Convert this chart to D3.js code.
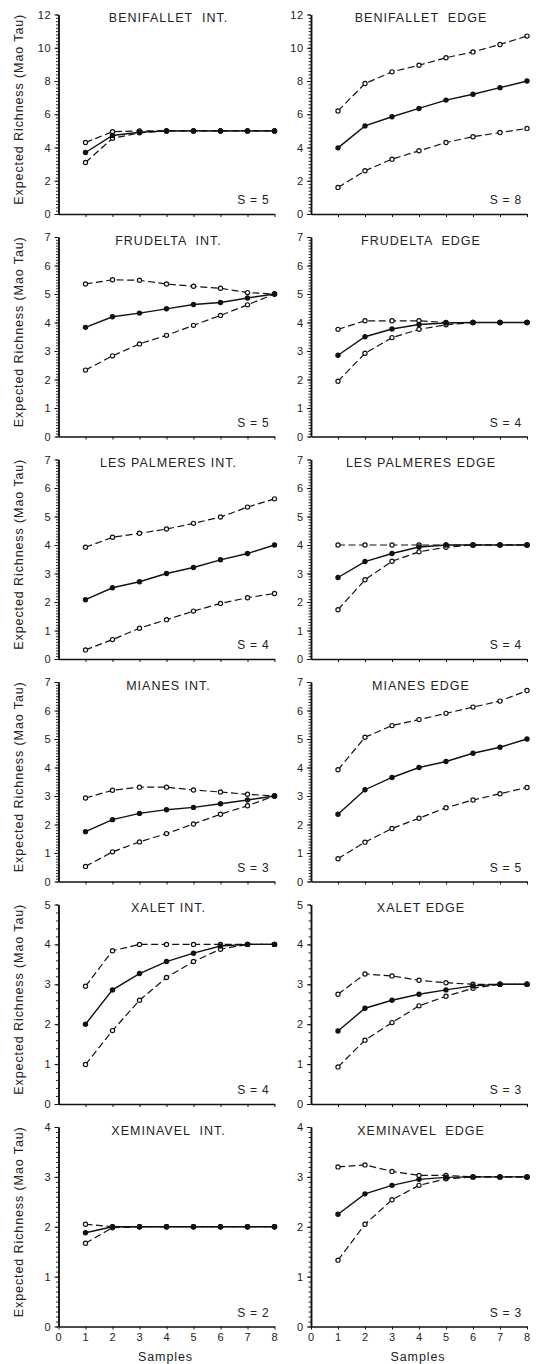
<!DOCTYPE html>
<html>
<head>
<meta charset="utf-8">
<script src="https://cdn.jsdelivr.net/npm/d3@7"></script>
<style>
  body { margin: 0; background: #fff; }
  svg text { font-family: "Liberation Sans", Arial, sans-serif; fill: #222; }
  .axis path, .axis line { stroke: #111; }
  .axis path { stroke-width: 1.5; }
  .axis line { stroke-width: 1; }
  .minor line { stroke-width: 0.9; }
  .axis text { font-size: 11px; letter-spacing: 0.8px; }
  .title { font-size: 12.5px; letter-spacing: 1px; white-space: pre; }
  .richness { font-size: 12px; letter-spacing: 0.8px; }
  .label { font-size: 12.5px; letter-spacing: 0.9px; }
</style>
</head>
<body>
<div id="chart"></div>
<script>
var width = 537, height = 1364;

// x values (number of samples)
var samples = [1, 2, 3, 4, 5, 6, 7, 8];
var sampleTicks = [0, 1, 2, 3, 4, 5, 6, 7, 8];

// panel titles, left column = interior, right column = edge
var titles = ["BENIFALLET  INT.", "BENIFALLET  EDGE",
              "FRUDELTA  INT.", "FRUDELTA  EDGE",
              "LES PALMERES INT.", "LES PALMERES EDGE",
              "MIANES INT.", "MIANES EDGE",
              "XALET INT.", "XALET EDGE",
              "XEMINAVEL  INT.", "XEMINAVEL  EDGE"];

// observed richness S for each panel
var observedS = [5, 8, 5, 4, 4, 4, 3, 5, 4, 3, 2, 3];

// y axis maximum per row
var rowMax = [12, 7, 7, 7, 5, 4];

// Mao Tau expected richness (mean) and 95% bounds
var benifalletIntMean  = [3.7, 4.72, 4.92, 5, 5, 5, 5, 5];
var benifalletIntUpper = [4.3, 4.95, 5, 5, 5, 5, 5, 5];
var benifalletIntLower = [3.1, 4.55, 4.88, 5, 5, 5, 5, 5];

var benifalletEdgeMean  = [3.98, 5.3, 5.85, 6.35, 6.85, 7.2, 7.6, 8];
var benifalletEdgeUpper = [6.2, 7.85, 8.55, 8.95, 9.4, 9.75, 10.2, 10.7];
var benifalletEdgeLower = [1.6, 2.6, 3.3, 3.8, 4.3, 4.65, 4.9, 5.15];

var frudeltaIntMean  = [3.83, 4.2, 4.33, 4.48, 4.63, 4.7, 4.86, 5];
var frudeltaIntUpper = [5.35, 5.5, 5.48, 5.35, 5.27, 5.2, 5.05, 5];
var frudeltaIntLower = [2.33, 2.83, 3.25, 3.55, 3.9, 4.25, 4.62, 5];

var frudeltaEdgeMean  = [2.85, 3.5, 3.77, 3.93, 3.98, 4, 4, 4];
var frudeltaEdgeUpper = [3.76, 4.06, 4.06, 4.06, 4, 4, 4, 4];
var frudeltaEdgeLower = [1.94, 2.92, 3.47, 3.76, 3.92, 4, 4, 4];

var palmeresIntMean  = [2.08, 2.5, 2.71, 3, 3.21, 3.48, 3.7, 4];
var palmeresIntUpper = [3.92, 4.27, 4.41, 4.56, 4.76, 4.98, 5.33, 5.62];
var palmeresIntLower = [0.32, 0.68, 1.08, 1.38, 1.68, 1.95, 2.15, 2.3];

var palmeresEdgeMean  = [2.86, 3.42, 3.7, 3.93, 4, 4, 4, 4];
var palmeresEdgeUpper = [4, 4, 4, 4, 4, 4, 4, 4];
var palmeresEdgeLower = [1.73, 2.78, 3.43, 3.76, 3.92, 4, 4, 4];

var mianesIntMean  = [1.75, 2.17, 2.39, 2.52, 2.6, 2.73, 2.86, 3];
var mianesIntUpper = [2.93, 3.2, 3.31, 3.31, 3.21, 3.14, 3.06, 3];
var mianesIntLower = [0.53, 1.04, 1.39, 1.68, 2.02, 2.36, 2.66, 3];

var mianesEdgeMean  = [2.36, 3.22, 3.65, 4, 4.21, 4.5, 4.71, 5];
var mianesEdgeUpper = [3.92, 5.06, 5.47, 5.68, 5.9, 6.12, 6.33, 6.7];
var mianesEdgeLower = [0.8, 1.38, 1.86, 2.22, 2.59, 2.86, 3.08, 3.3];

var xaletIntMean  = [2, 2.86, 3.27, 3.57, 3.78, 3.96, 4, 4];
var xaletIntUpper = [2.95, 3.84, 4, 4, 4, 4, 4, 4];
var xaletIntLower = [0.99, 1.84, 2.6, 3.17, 3.57, 3.88, 4, 4];

var xaletEdgeMean  = [1.83, 2.4, 2.6, 2.75, 2.86, 2.96, 3, 3];
var xaletEdgeUpper = [2.75, 3.26, 3.21, 3.1, 3.04, 3, 3, 3];
var xaletEdgeLower = [0.93, 1.6, 2.04, 2.46, 2.7, 2.9, 3, 3];

var xeminavelIntMean  = [1.88, 2, 2, 2, 2, 2, 2, 2];
var xeminavelIntUpper = [2.05, 2, 2, 2, 2, 2, 2, 2];
var xeminavelIntLower = [1.67, 1.98, 2, 2, 2, 2, 2, 2];

var xeminavelEdgeMean  = [2.25, 2.66, 2.83, 2.95, 2.99, 3, 3, 3];
var xeminavelEdgeUpper = [3.2, 3.24, 3.11, 3.03, 3.03, 3, 3, 3];
var xeminavelEdgeLower = [1.33, 2.05, 2.54, 2.83, 2.96, 3, 3, 3];

var means  = [benifalletIntMean, benifalletEdgeMean, frudeltaIntMean, frudeltaEdgeMean,
              palmeresIntMean, palmeresEdgeMean, mianesIntMean, mianesEdgeMean,
              xaletIntMean, xaletEdgeMean, xeminavelIntMean, xeminavelEdgeMean];
var uppers = [benifalletIntUpper, benifalletEdgeUpper, frudeltaIntUpper, frudeltaEdgeUpper,
              palmeresIntUpper, palmeresEdgeUpper, mianesIntUpper, mianesEdgeUpper,
              xaletIntUpper, xaletEdgeUpper, xeminavelIntUpper, xeminavelEdgeUpper];
var lowers = [benifalletIntLower, benifalletEdgeLower, frudeltaIntLower, frudeltaEdgeLower,
              palmeresIntLower, palmeresEdgeLower, mianesIntLower, mianesEdgeLower,
              xaletIntLower, xaletEdgeLower, xeminavelIntLower, xeminavelEdgeLower];

// layout
var colLeft = [58.5, 311];
var plotWidth = 216;
var firstTop = 14.5, rowStep = 222.5, plotHeight = 199.5;

var svg = d3.select("#chart")
  .append("svg")
  .attr("width", width)
  .attr("height", height);

svg.append("rect").attr("width", width).attr("height", height).attr("fill", "#fff");

titles.forEach(function(title, i) {
  var row = Math.floor(i / 2), col = i % 2;
  var top = firstTop + row * rowStep;
  var left = colLeft[col];
  var yMax = rowMax[row];
  var isBottom = row == rowMax.length - 1;

  var x = d3.scaleLinear().domain([0, 8]).range([left, left + plotWidth]);
  var y = d3.scaleLinear().domain([0, yMax]).range([top + plotHeight, top]);

  var g = svg.append("g");

  // minor ticks on y
  var minorStep = yMax >= 12 ? 0.2 : (yMax == 5 ? 0.2 : 0.1);
  var minors = d3.range(0, yMax + 1e-6, minorStep);
  g.append("g")
    .attr("class", "axis minor")
    .attr("transform", "translate(" + left + ",0)")
    .call(d3.axisLeft(y).tickValues(minors).tickSize(2.5).tickSizeOuter(0).tickFormat(""));

  // major ticks on y
  var majorStep = yMax >= 12 ? 2 : 1;
  g.append("g")
    .attr("class", "axis")
    .attr("transform", "translate(" + left + ",0)")
    .call(d3.axisLeft(y).tickValues(d3.range(0, yMax + 1e-6, majorStep))
      .tickSize(4).tickSizeOuter(0).tickPadding(3).tickFormat(d3.format("d")));

  // x axis
  g.append("g")
    .attr("class", "axis")
    .attr("transform", "translate(0," + y(0) + ")")
    .call(d3.axisBottom(x).tickValues(isBottom ? sampleTicks : samples)
      .tickSize(3).tickSizeOuter(0).tickPadding(4)
      .tickFormat(isBottom ? d3.format("d") : ""));

  // title
  g.append("text")
    .attr("class", "title")
    .attr("x", left + plotWidth / 2 + 2)
    .attr("y", top + 7.5)
    .attr("text-anchor", "middle")
    .text(title);

  // S = n
  g.append("text")
    .attr("class", "richness")
    .attr("x", left + plotWidth - 5)
    .attr("y", y(0) - 10)
    .attr("text-anchor", "end")
    .text("S = " + observedS[i]);

  var line = d3.line()
    .x(function(d, j) { return x(samples[j]); })
    .y(function(d) { return y(d); });

  // dashed bounds
  [uppers[i], lowers[i]].forEach(function(series) {
    g.append("path")
      .attr("d", line(series))
      .attr("fill", "none")
      .attr("stroke", "#111")
      .attr("stroke-width", 1.2)
      .attr("stroke-dasharray", "7,3.5");
  });

  // solid mean
  g.append("path")
    .attr("d", line(means[i]))
    .attr("fill", "none")
    .attr("stroke", "#111")
    .attr("stroke-width", 1.4);

  [uppers[i], lowers[i]].forEach(function(series) {
    g.selectAll(null)
      .data(series)
      .enter()
      .append("circle")
      .attr("cx", function(d, j) { return x(samples[j]); })
      .attr("cy", function(d) { return y(d); })
      .attr("r", 2.1)
      .attr("fill", "#fff")
      .attr("stroke", "#111")
      .attr("stroke-width", 1.2);
  });

  g.selectAll(null)
    .data(means[i])
    .enter()
    .append("circle")
    .attr("cx", function(d, j) { return x(samples[j]); })
    .attr("cy", function(d) { return y(d); })
    .attr("r", 2.7)
    .attr("fill", "#111");

  // y label on left column only
  if (col == 0) {
    g.append("text")
      .attr("class", "label")
      .attr("transform", "translate(22.5," + (top + plotHeight / 2 - 5) + ")rotate(-90)")
      .attr("text-anchor", "middle")
      .text("Expected Richness (Mao Tau)");
  }

  // x label on bottom row
  if (isBottom) {
    g.append("text")
      .attr("class", "label")
      .attr("x", left + plotWidth / 2 - 1)
      .attr("y", 1361)
      .attr("text-anchor", "middle")
      .text("Samples");
  }
});
</script>
</body>
</html>
